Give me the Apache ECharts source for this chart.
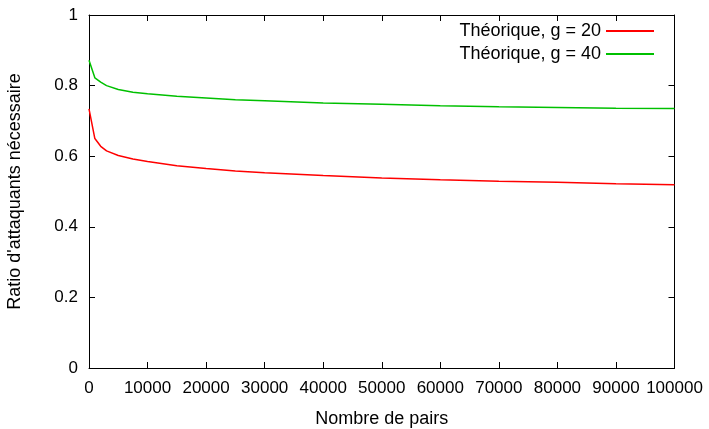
<!DOCTYPE html>
<html>
<head>
<meta charset="utf-8">
<script src="https://cdn.jsdelivr.net/npm/echarts@6/dist/echarts.min.js"></script>
<style>
  html, body { margin: 0; padding: 0; background: #fff; }
  #main { width: 709px; height: 429px; }
</style>
</head>
<body>
<div id="main"></div>
<script>
// nombre de pairs (abscisses)
var pairs = [0, 1000, 2000, 3000, 5000, 7500, 10000, 15000, 20000, 25000, 30000,
  40000, 50000, 60000, 70000, 80000, 90000, 100000];
// g = 20
var ratioG20 = [0.734, 0.650, 0.628, 0.615, 0.602, 0.592, 0.585, 0.573, 0.565, 0.558, 0.553,
  0.545, 0.538, 0.533, 0.529, 0.526, 0.522, 0.519];
// g = 40
var ratioG40 = [0.872, 0.822, 0.810, 0.800, 0.789, 0.781, 0.777, 0.770, 0.765, 0.760, 0.757,
  0.751, 0.747, 0.743, 0.740, 0.738, 0.736, 0.735];

function pts (ys) {
  return pairs.map(function (x, i) { return [x, ys[i]]; });
}

var font = 'Liberation Sans, Arial, sans-serif';
var fs = 17;     // ticks
var fsName = 18; // titres + legende
var chart = echarts.init(document.getElementById('main'));

var tick = { show: true, inside: true, length: 6, lineStyle: { color: '#000' } };
var line = { show: true, onZero: false, lineStyle: { color: '#000', width: 1 } };

var option = {
  animation: false,
  grid: {
    left: 89, right: 34.5, top: 15, bottom: 61,
    containLabel: false,
    outerBoundsMode: 'none'
  },
  legend: {
    orient: 'vertical',
    right: 50,
    top: 17,
    align: 'right',
    icon: 'rect',
    itemWidth: 48,
    itemHeight: 2,
    itemGap: 5,
    itemTextGap: 11,
    textStyle: { fontFamily: font, fontSize: fsName, color: '#000' },
    data: ['Théorique, g = 20', 'Théorique, g = 40']
  },
  xAxis: [
    {
      type: 'value', min: 0, max: 100000, interval: 10000,
      name: 'Nombre de pairs', nameLocation: 'middle', nameGap: 42,
      nameTextStyle: { fontFamily: font, fontSize: fsName, color: '#000' },
      axisLine: line, axisTick: tick, splitLine: { show: false },
      axisLabel: {
        fontFamily: font, fontSize: fs, color: '#000', margin: 12,
        formatter: function (v) { return String(v); }
      }
    },
    {
      type: 'value', position: 'top', min: 0, max: 100000, interval: 10000,
      axisLine: line, axisTick: tick, splitLine: { show: false },
      axisLabel: { show: false }
    }
  ],
  yAxis: [
    {
      type: 'value', min: 0, max: 1, interval: 0.2,
      name: "Ratio d'attaquants nécessaire", nameLocation: 'middle', nameGap: 65,
      nameTextStyle: { fontFamily: font, fontSize: fsName, color: '#000' },
      axisLine: line, axisTick: tick, splitLine: { show: false },
      axisLabel: { fontFamily: font, fontSize: fs, color: '#000', margin: 11 }
    },
    {
      type: 'value', position: 'right', min: 0, max: 1, interval: 0.2,
      axisLine: line, axisTick: tick, splitLine: { show: false },
      axisLabel: { show: false }
    }
  ],
  series: [
    {
      name: 'Théorique, g = 20', type: 'line', symbol: 'none',
      itemStyle: { color: '#ff0000' },
      lineStyle: { color: '#ff0000', width: 1.5 },
      data: pts(ratioG20)
    },
    {
      name: 'Théorique, g = 40', type: 'line', symbol: 'none',
      itemStyle: { color: '#00c000' },
      lineStyle: { color: '#00c000', width: 1.5 },
      data: pts(ratioG40)
    }
  ]
};
chart.setOption(option);
</script>
</body>
</html>
